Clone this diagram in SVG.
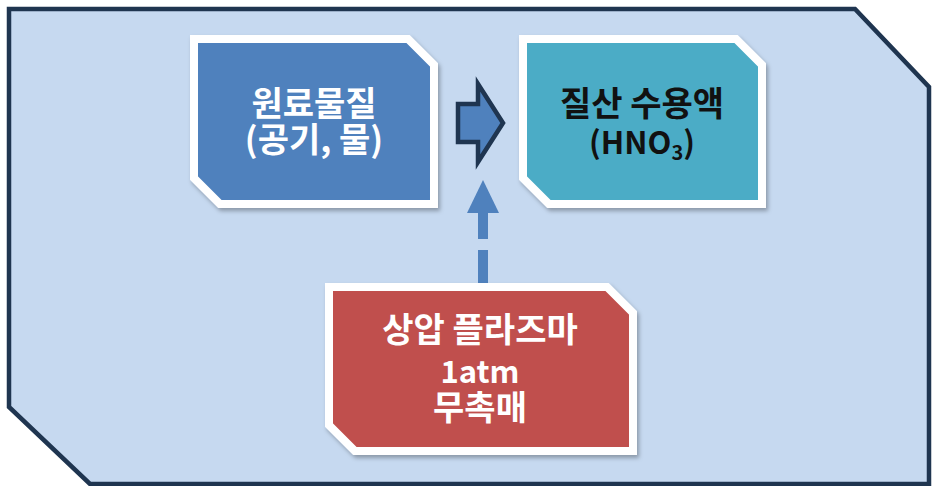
<svg xmlns="http://www.w3.org/2000/svg" width="933" height="486" viewBox="0 0 933 486">
  <style>
    .frame { fill: #C6D9F0; stroke: #1F3550; stroke-width: 4.5; stroke-linejoin: miter; }
    .node { stroke: #FFFFFF; stroke-width: 8; stroke-linejoin: miter; filter: url(#shadow); }
    .t { font-family: "Noto Sans CJK KR", "Noto Sans", sans-serif; font-weight: bold; font-size: 34px; text-anchor: middle; }
    .lat { font-size: 31px; }
    .w { fill: #FFFFFF; }
    .k { fill: #111111; }
  </style>
  <defs>
    <filter id="shadow" x="-10%" y="-10%" width="125%" height="125%">
      <feDropShadow dx="2" dy="3" stdDeviation="2" flood-color="#000000" flood-opacity="0.3"/>
    </filter>
  </defs>
  <rect width="933" height="486" fill="#FFFFFF"/>
  <polygon class="frame" points="9,9 855,9 929,87 929,484 90,484 9,407"/>

  <g id="connectors">
    <polygon id="block-arrow" points="458,104 478,104 478,84 503,123 478,162 478,142 458,142" fill="#4F81BD" stroke="#1F3550" stroke-width="4.5" stroke-linejoin="miter"/>
    <g id="dashed-arrow" fill="#4F81BD">
      <polygon points="483,180 499,213 467,213"/>
      <rect x="478" y="213" width="10" height="26"/>
      <rect x="478" y="250" width="10" height="36"/>
    </g>
  </g>

  <g id="node-raw">
    <polygon class="node" fill="#4F81BD" points="194,39 408,39 434,65 434,204 220,204 194,178"/>
    <text class="t w" x="314" y="116">원료물질</text>
    <text class="t w" x="314" y="152">(공기, 물)</text>
  </g>

  <g id="node-nitric">
    <polygon class="node" fill="#4BACC6" points="523,39 736,39 762,65 762,204 549,204 523,178"/>
    <text class="t k" x="642" y="116">질산 수용액</text>
    <text class="t k lat" x="642" y="154">(HNO<tspan font-size="20" dy="6">3</tspan><tspan dy="-6">)</tspan></text>
  </g>

  <g id="node-plasma">
    <polygon class="node" fill="#C0504D" points="329,287 607,287 633,313 633,451 355,451 329,425"/>
    <text class="t w" x="480" y="342">상압 플라즈마</text>
    <text class="t w lat" x="480" y="383">1atm</text>
    <text class="t w" x="480" y="420">무촉매</text>
  </g>
</svg>
